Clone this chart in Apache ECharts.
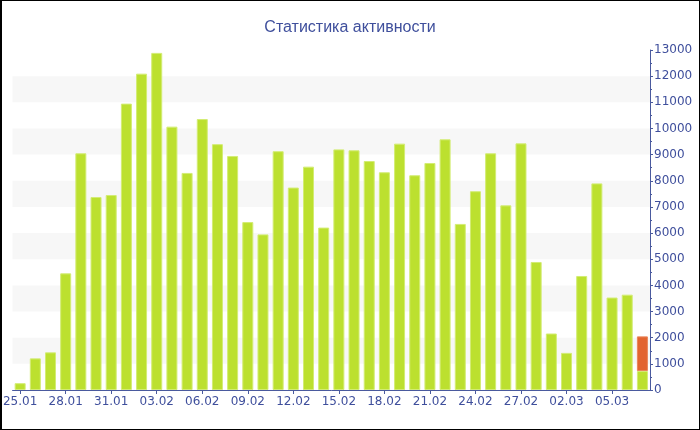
<!DOCTYPE html>
<html>
<head>
<meta charset="utf-8">
<script src="https://cdn.jsdelivr.net/npm/echarts@6/dist/echarts.min.js"></script>
<style>
html,body{margin:0;padding:0;background:#fff;}
#wrap{position:relative;width:700px;height:430px;}
#chart{position:absolute;left:0;top:0;width:700px;height:430px;}
#frame{position:absolute;left:0;top:0;width:700px;height:430px;box-sizing:border-box;border:1px solid #000;border-left-width:2px;pointer-events:none;}
</style>
</head>
<body>
<div id="wrap"><div id="chart"></div><div id="frame"></div></div>
<script>
var titleText = 'Статистика активности';
var categories = ['25.01','26.01','27.01','28.01','29.01','30.01','31.01',
  '01.02','02.02','03.02','04.02','05.02','06.02','07.02','08.02','09.02','10.02',
  '11.02','12.02','13.02','14.02','15.02','16.02','17.02','18.02','19.02','20.02',
  '21.02','22.02','23.02','24.02','25.02','26.02','27.02','28.02',
  '01.03','02.03','03.03','04.03','05.03','06.03','07.03'];
var greenValues = [260,1210,1440,4460,9050,7380,7455,
  10950,12095,12890,10070,8300,10360,9400,8950,6420,5950,
  9130,7740,8540,6210,9200,9165,8755,8325,9420,8210,
  8680,9585,6350,7600,9050,7060,9430,4895,
  2160,1420,4360,7900,3535,3645,725];
var redValues = ['-','-','-','-','-','-','-',
  '-','-','-','-','-','-','-','-','-','-',
  '-','-','-','-','-','-','-','-','-','-',
  '-','-','-','-','-','-','-','-',
  '-','-','-','-','-','-',1325];
var yMin = 0, yMax = 13000, yStep = 1000;

var textColor = '#3f4f9c';
var chart = echarts.init(document.getElementById('chart'), null, {renderer:'canvas'});
chart.setOption({
  animation:false,
  backgroundColor:'#fff',
  title:{text:titleText,left:'center',top:15,
    textStyle:{fontFamily:'Liberation Sans',fontSize:16,fontWeight:'normal',color:textColor}},
  grid:{left:10,right:50,top:50,bottom:40},
  xAxis:{type:'category',data:categories,boundaryGap:true,
    axisLine:{lineStyle:{color:'#4a5a9e',width:1}},
    axisTick:{show:true,alignWithLabel:true,interval:2,length:4,lineStyle:{color:'#4a5a9e'}},
    axisLabel:{interval:2,margin:6,color:textColor,fontFamily:'DejaVu Sans',fontSize:12},
    splitLine:{show:false}},
  yAxis:{type:'value',position:'right',min:yMin,max:yMax,interval:yStep,
    axisLine:{show:true,lineStyle:{color:'#4a5a9e',width:1}},
    axisTick:{show:true,length:3,lineStyle:{color:'#4a5a9e'}},
    minorTick:{show:true,splitNumber:2,length:2,lineStyle:{color:'#4a5a9e'}},
    axisLabel:{margin:4,color:textColor,fontFamily:'DejaVu Sans',fontSize:12,
      formatter:function(v){return String(v);}},
    splitLine:{show:false},
    splitArea:{show:true,areaStyle:{color:['rgba(255,255,255,0)','#f7f7f7']}}},
  series:[
    {type:'bar',stack:'a',data:greenValues,barWidth:11,
      itemStyle:{color:'#bce02f',borderColor:'#d3ec74',borderWidth:1}},
    {type:'bar',stack:'a',data:redValues,barWidth:11,
      itemStyle:{color:'#e26430',borderColor:'#e9855a',borderWidth:1}}
  ]
});
</script>
</body>
</html>
